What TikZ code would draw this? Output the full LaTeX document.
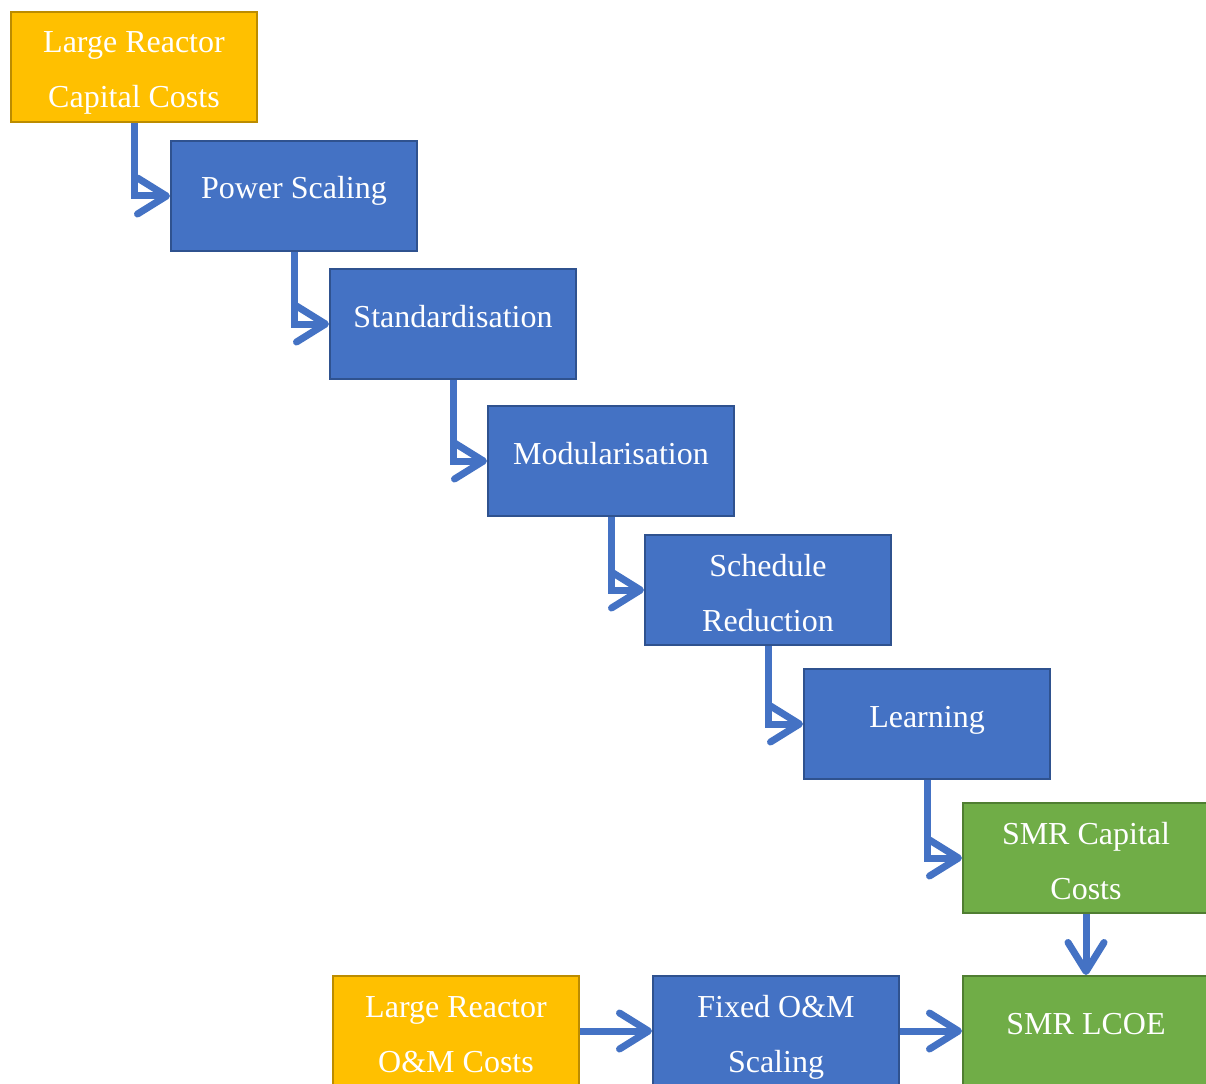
\documentclass[tikz,border=0pt]{standalone}
\usepackage{fontspec}
\setmainfont{Liberation Serif}
\usetikzlibrary{arrows.meta}
\definecolor{gold}{HTML}{FFC000}
\definecolor{goldline}{HTML}{BC8C00}
\definecolor{blu}{HTML}{4472C4}
\definecolor{bluline}{HTML}{2F528F}
\definecolor{grn}{HTML}{70AD47}
\definecolor{grnline}{HTML}{507E32}
% two centred lines whose first baseline is the node baseline
\newcommand{\twolines}[2]{\begin{tabular}[t]{@{}c@{}}#1\\#2\end{tabular}}

\begin{document}
\begin{tikzpicture}[x=1pt, y=-1pt,
  box/.style={rectangle, draw, line width=2pt, minimum width=246pt,
    minimum height=110pt, inner sep=0pt, text=white,
    font=\fontsize{32}{55}\selectfont},
  oneline/.style={text height=6pt, text depth=0pt},
  twoline/.style={text height=0pt, text depth=28pt},
  inputbox/.style={box, fill=gold, draw=goldline},
  stepbox/.style={box, fill=blu, draw=bluline},
  resultbox/.style={box, fill=grn, draw=grnline},
  conn/.style={draw=blu, line width=7pt,
    -{Straight Barb[round, length=29pt, width=36pt]}}
]
\useasboundingbox (0,0) rectangle (1206,1083);
\clip (0,0) rectangle (1206,1083);
\fill[white] (0,0) rectangle (1206,1083);

% capital cost chain
\node[inputbox, twoline] (lrcc) at (134,67) {\twolines{Large Reactor}{Capital Costs}};
\node[stepbox, oneline] (ps) at (294,196) {Power Scaling};
\node[stepbox, oneline] (std) at (453,324) {Standardisation};
\node[stepbox, oneline] (mod) at (611,461) {Modularisation};
\node[stepbox, twoline] (sch) at (768,590) {\twolines{Schedule}{Reduction}};
\node[stepbox, oneline] (lrn) at (927,724) {Learning};
\node[resultbox, twoline] (smrc) at (1086,858) {\twolines{SMR Capital}{Costs}};

% O&M chain and final result
\node[inputbox, twoline] (lrom) at (456,1031) {\twolines{Large Reactor}{O\&M Costs}};
\node[stepbox, twoline] (fom) at (776,1031) {\twolines{Fixed O\&M}{Scaling}};
\node[resultbox, oneline] (lcoe) at (1086,1031) {SMR LCOE};

% connectors
\draw[conn] (lrcc.south) |- (ps.west);
\draw[conn] (ps.south) |- (std.west);
\draw[conn] (std.south) |- (mod.west);
\draw[conn] (mod.south) |- (sch.west);
\draw[conn] (sch.south) |- (lrn.west);
\draw[conn] (lrn.south) |- (smrc.west);
\draw[conn] (smrc.south) -- (lcoe.north);
\draw[conn] (lrom.east) -- (fom.west);
\draw[conn] (fom.east) -- (lcoe.west);
\end{tikzpicture}
\end{document}
